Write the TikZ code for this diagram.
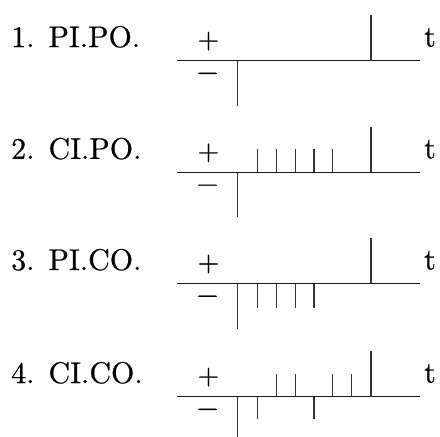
\documentclass[tikz,border=0pt]{standalone}
\usepackage{fontspec}
\setmainfont{lmroman10-regular.otf}[FakeBold=0.6]
\begin{document}
\begin{tikzpicture}[x=1pt,y=-1pt,
  lbl/.style={anchor=base west,inner sep=0pt,font=\fontsize{30}{34}\selectfont},
  sgn/.style={inner sep=0pt,font=\fontsize{28}{30}\selectfont},
  axisline/.style={line width=1.6pt,black!90},
  pulse/.style={line width=1.5pt,black!80}]
\useasboundingbox (0,0) rectangle (440,437);
% common parts of the four panels
\foreach \n/\A/\num/\txt in {1/60.6/1/PI.PO.,2/172.4/2/CI.PO.,3/283.5/3/PI.CO.,4/396.6/4/CI.CO.}{
  \node[lbl] (lab\n) at (11,\A-13.5) {\num.\hspace{14pt}\txt};
  \node[sgn] (plus\n) at (208.5,\A-19.5) {+};
  \node[sgn] (minus\n) at (207.5,\A+16) {\symbol{"2212}};
  \node[lbl] (t\n) at (424,\A-14) {t};
  \coordinate (axL\n) at (177,\A);
  \coordinate (axR\n) at (420,\A);
  \draw[axisline] (axL\n) -- (axR\n);
  \draw[pulse] (237.5,\A) -- (237.5,\A+45);
  \draw[pulse] (371,\A) -- (371,\A-45.5);
}
% 2. CI.PO.: five small positive pulses
\foreach \x in {257.7,276.5,295.3,314,332.7}
  \draw[pulse] (\x,172.4) -- (\x,172.4-23);
% 3. PI.CO.: four small negative pulses
\foreach \x in {257.7,276.5,295.3,314}
  \draw[pulse] (\x,283.5) -- (\x,283.5+24);
% 4. CI.CO.: mixed pulses
\foreach \x in {276.5,295.3,332.7,351.3}
  \draw[pulse] (\x,396.6) -- (\x,396.6-23);
\foreach \x in {257.7,314}
  \draw[pulse] (\x,396.6) -- (\x,396.6+22);
\end{tikzpicture}
\end{document}
